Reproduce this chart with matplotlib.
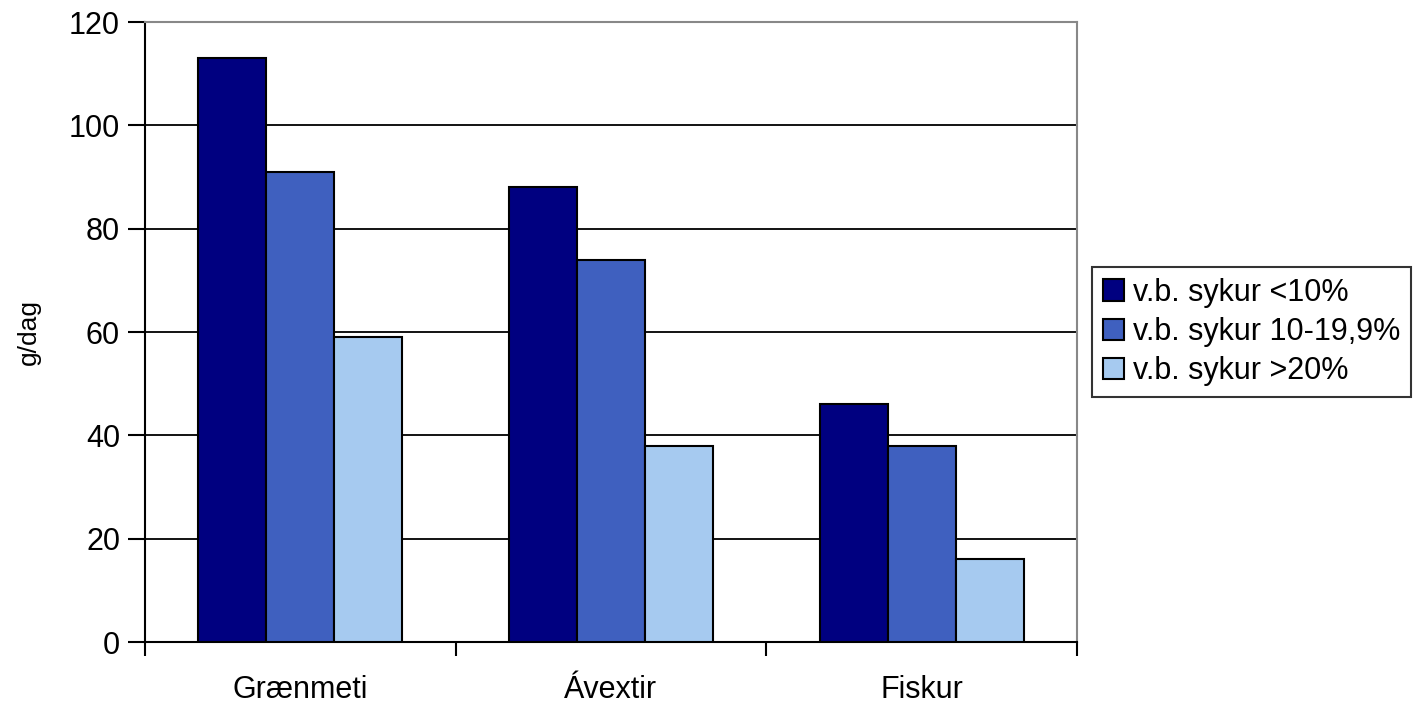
import numpy as np
import matplotlib.pyplot as plt

# data
categories = ['Grænmeti', 'Ávextir', 'Fiskur']
series_names = ['v.b. sykur <10%', 'v.b. sykur 10-19,9%', 'v.b. sykur >20%']
low_sugar = [113, 88, 46]
mid_sugar = [91, 74, 38]
high_sugar = [59, 38, 16]
colors = ['#000080', '#3F60BF', '#A6CAF0']

plt.rcParams['font.family'] = ['Liberation Sans', 'DejaVu Sans']

fig = plt.figure(figsize=(14.15, 7.05), dpi=100)
ax = fig.add_axes([145 / 1415, 63 / 705, 932 / 1415, 620 / 705])

x = np.arange(len(categories))
width = 0.219
series = [low_sugar, mid_sugar, high_sugar]
for i, vals in enumerate(series):
    ax.bar(x + (i - 1) * width, vals, width, color=colors[i], edgecolor='black',
           linewidth=1.5, label=series_names[i], zorder=3)

ax.set_xlim(-0.5, len(categories) - 0.5)
ax.set_ylim(0, 120)
ax.set_yticks(np.arange(0, 121, 20))
ax.yaxis.grid(True, color='black', linewidth=1.3, zorder=0)

# category ticks sit at the boundaries, labels in the middle
ax.set_xticks(np.arange(-0.5, len(categories), 1.0))
ax.set_xticklabels([])
ax.set_xticks(x, minor=True)
ax.set_xticklabels(categories, minor=True)
ax.tick_params(axis='x', which='minor', length=0, pad=24, labelsize=22)
ax.tick_params(axis='x', which='major', length=10, width=1.5, color='black')
ax.tick_params(axis='y', length=12, width=1.5, labelsize=22, pad=6)

for side in ['top', 'right']:
    ax.spines[side].set_color('#888888')
    ax.spines[side].set_linewidth(1.5)
for side in ['left', 'bottom']:
    ax.spines[side].set_color('black')
    ax.spines[side].set_linewidth(1.5)

ax.set_ylabel('g/dag', fontsize=19, labelpad=20)

leg = ax.legend(loc='center left', bbox_to_anchor=(1.016, 0.5), fontsize=22,
                frameon=True, fancybox=False, edgecolor='black',
                handlelength=0.7, handleheight=0.7, handletextpad=0.3,
                borderpad=0.35, labelspacing=0.3, borderaxespad=0)
leg.get_frame().set_linewidth(1.5)

fig.savefig('out.png', dpi=100)
